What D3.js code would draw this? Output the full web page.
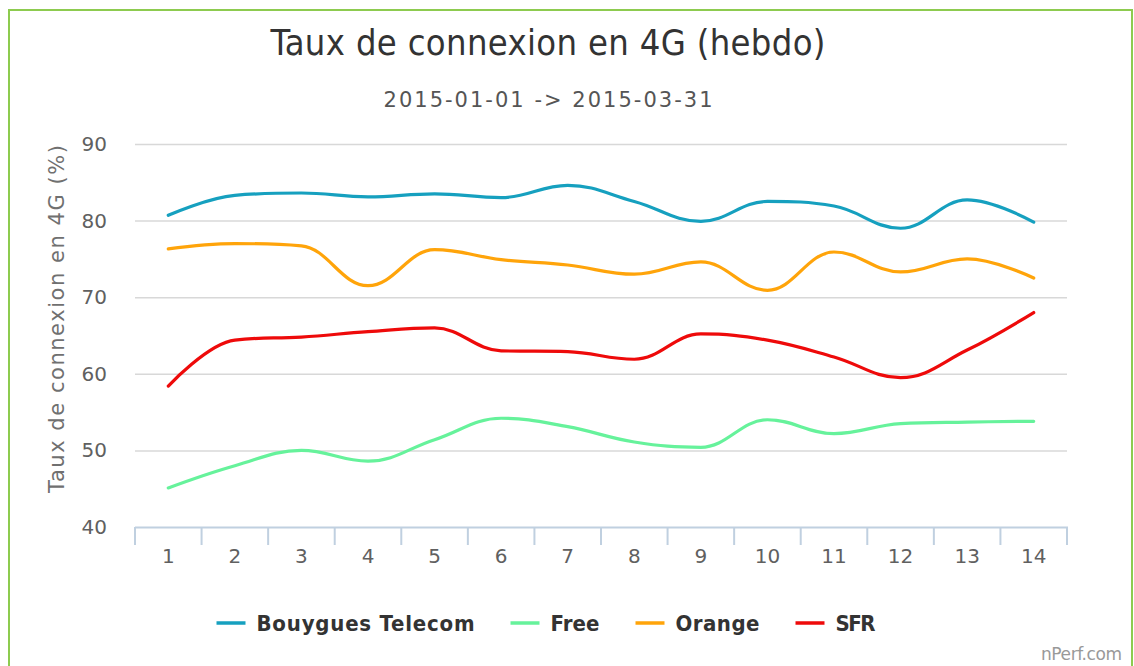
<!DOCTYPE html>
<html lang="fr">
<head>
<meta charset="UTF-8"/>
<title>Taux de connexion en 4G (hebdo)</title>
<script src="https://d3js.org/d3.v7.min.js"></script>
<style>
    body { margin: 0; background: #fff; }
    text { font-family: "DejaVu Sans", sans-serif; }
</style>
</head>
<body>
<script>
    // weeks on the x axis
    var weeks = ["1", "2", "3", "4", "5", "6", "7", "8", "9", "10", "11", "12", "13", "14"];

    // weekly values per operator (%)
    var bouygues = [80.7, 83.3, 83.6, 83.1, 83.5, 83.0, 84.6, 82.5, 79.9, 82.5, 81.9, 79.0, 82.7, 79.8];
    var free     = [45.1, 48.0, 50.0, 48.6, 51.4, 54.2, 53.1, 51.1, 50.4, 54.0, 52.2, 53.5, 53.7, 53.8];
    var orange   = [76.3, 77.0, 76.7, 71.5, 76.2, 74.9, 74.2, 73.0, 74.6, 70.9, 75.9, 73.3, 75.0, 72.5];
    var sfr      = [58.4, 64.4, 64.8, 65.5, 66.0, 63.0, 62.9, 61.9, 65.2, 64.4, 62.2, 59.5, 63.1, 68.0];

    var seriesNames = ["Bouygues Telecom", "Free", "Orange", "SFR"];
    var seriesColors = ["#16a0bf", "#66f29b", "#ffa40a", "#ee0a0a"];
    var yTicks = [40, 50, 60, 70, 80, 90];

    var series = [bouygues, free, orange, sfr].map(function (v, i) {
        return { name: seriesNames[i], color: seriesColors[i], values: v };
    });

    var w = 1134, h = 666;
    var plotL = 135, plotR = 1067, plotT = 144, plotB = 527;

    var svg = d3.select("body").append("svg")
        .attr("width", w)
        .attr("height", h);

    // green frame
    svg.append("rect")
        .attr("x", 9).attr("y", 10)
        .attr("width", 1123).attr("height", 680)
        .attr("fill", "none")
        .attr("stroke", "#8dcb4f")
        .attr("stroke-width", 2);

    var xScale = d3.scaleBand()
        .domain(weeks)
        .range([plotL, plotR]);

    var yScale = d3.scaleLinear()
        .domain([40, 90])
        .range([plotB, plotT]);

    // grid lines
    svg.selectAll("line.grid")
        .data(yTicks.slice(1))
        .enter()
        .append("line")
        .attr("class", "grid")
        .attr("x1", plotL).attr("x2", plotR)
        .attr("y1", function (d) { return yScale(d) + 0.5; })
        .attr("y2", function (d) { return yScale(d) + 0.5; })
        .attr("stroke", "#d8d8d8")
        .attr("stroke-width", 1.5);

    // y tick labels
    svg.selectAll("text.ylab")
        .data(yTicks)
        .enter()
        .append("text")
        .attr("class", "ylab")
        .attr("x", 107)
        .attr("y", function (d) { return yScale(d) + 7; })
        .attr("text-anchor", "end")
        .attr("font-size", "20px")
        .attr("fill", "#606060")
        .text(function (d) { return d; });

    // x axis
    var xAxis = d3.axisBottom(xScale).tickSize(0).tickPadding(0);
    var gx = svg.append("g")
        .attr("transform", "translate(0," + plotB + ")")
        .call(xAxis);
    gx.select(".domain").remove();
    gx.selectAll("text")
        .attr("y", 36)
        .attr("dy", 0)
        .attr("font-size", "20px")
        .attr("font-family", "DejaVu Sans, sans-serif")
        .attr("fill", "#606060");

    svg.append("line")
        .attr("x1", plotL).attr("x2", plotR + 1)
        .attr("y1", plotB + 0.5).attr("y2", plotB + 0.5)
        .attr("stroke", "#c0d0e0")
        .attr("stroke-width", 2);

    var bounds = weeks.map(function (d) { return xScale(d); }).concat([plotR]);
    svg.selectAll("line.xtick")
        .data(bounds)
        .enter()
        .append("line")
        .attr("class", "xtick")
        .attr("x1", function (d) { return d; })
        .attr("x2", function (d) { return d; })
        .attr("y1", plotB).attr("y2", plotB + 18)
        .attr("stroke", "#c0d0e0")
        .attr("stroke-width", 2);

    // highcharts-like spline path
    function splinePath(values) {
        var pts = values.map(function (v, i) {
            return [xScale(weeks[i]) + xScale.bandwidth() / 2, yScale(v)];
        });
        var s = 1.5, den = s + 1;
        var rc = [];
        var path = "M" + pts[0][0] + "," + pts[0][1];
        for (var i = 1; i < pts.length; i++) {
            var px = pts[i][0], py = pts[i][1];
            var lx = px, ly = py;
            if (i < pts.length - 1) {
                var prev = pts[i - 1], next = pts[i + 1];
                lx = (s * px + prev[0]) / den;
                ly = (s * py + prev[1]) / den;
                var rx = (s * px + next[0]) / den;
                var ry = (s * py + next[1]) / den;
                var corr = ((ry - ly) * (rx - px)) / (rx - lx) + py - ry;
                ly += corr; ry += corr;
                if (ly > prev[1] && ly > py) { ly = Math.max(prev[1], py); ry = 2 * py - ly; }
                else if (ly < prev[1] && ly < py) { ly = Math.min(prev[1], py); ry = 2 * py - ly; }
                if (ry > next[1] && ry > py) { ry = Math.max(next[1], py); ly = 2 * py - ry; }
                else if (ry < next[1] && ry < py) { ry = Math.min(next[1], py); ly = 2 * py - ry; }
                rc[i] = [rx, ry];
            }
            var c1 = rc[i - 1] || pts[i - 1];
            path += "C" + c1[0] + "," + c1[1] + " " + lx + "," + ly + " " + px + "," + py;
        }
        return path;
    }

    svg.selectAll("path.series")
        .data(series)
        .enter()
        .append("path")
        .attr("class", "series")
        .attr("d", function (d) { return splinePath(d.values); })
        .attr("fill", "none")
        .attr("stroke", function (d) { return d.color; })
        .attr("stroke-width", 3.2)
        .attr("stroke-linejoin", "round")
        .attr("stroke-linecap", "round");

    // titles
    svg.append("text")
        .attr("x", 548).attr("y", 55)
        .attr("text-anchor", "middle")
        .attr("font-size", "36px")
        .attr("font-stretch", "condensed")
        .attr("textLength", 555)
        .attr("fill", "#333333")
        .text("Taux de connexion en 4G (hebdo)");

    svg.append("text")
        .attr("x", 548).attr("y", 107)
        .attr("text-anchor", "middle")
        .attr("font-size", "21px")
        .attr("textLength", 329)
        .attr("fill", "#555555")
        .text("2015-01-01 -> 2015-03-31");

    svg.append("text")
        .attr("transform", "translate(64,319) rotate(-90)")
        .attr("text-anchor", "middle")
        .attr("font-size", "21px")
        .attr("textLength", 348)
        .attr("fill", "#707070")
        .text("Taux de connexion en 4G (%)");

    // legend
    var legendWidths = [218, 49, 84, 40];
    var legend = svg.append("g");
    var lx = 0;
    series.forEach(function (d, i) {
        var g = legend.append("g").attr("transform", "translate(" + lx + ",0)");
        g.append("line")
            .attr("x1", 0).attr("x2", 29)
            .attr("y1", 0).attr("y2", 0)
            .attr("stroke", d.color)
            .attr("stroke-width", 3.5);
        g.append("text")
            .attr("x", 40).attr("y", 8)
            .attr("font-size", "22px")
            .attr("font-weight", "bold")
            .attr("font-stretch", "condensed")
            .attr("textLength", legendWidths[i])
            .attr("fill", "#333333")
            .text(d.name);
        lx += 40 + legendWidths[i] + 36;
    });
    var legW = lx - 36;
    legend.attr("transform", "translate(" + (546 - legW / 2) + ",623)");

    // credits
    svg.append("text")
        .attr("x", 1122).attr("y", 660)
        .attr("text-anchor", "end")
        .attr("font-size", "17px")
        .attr("textLength", 81)
        .attr("fill", "#999999")
        .text("nPerf.com");
</script>
</body>
</html>
